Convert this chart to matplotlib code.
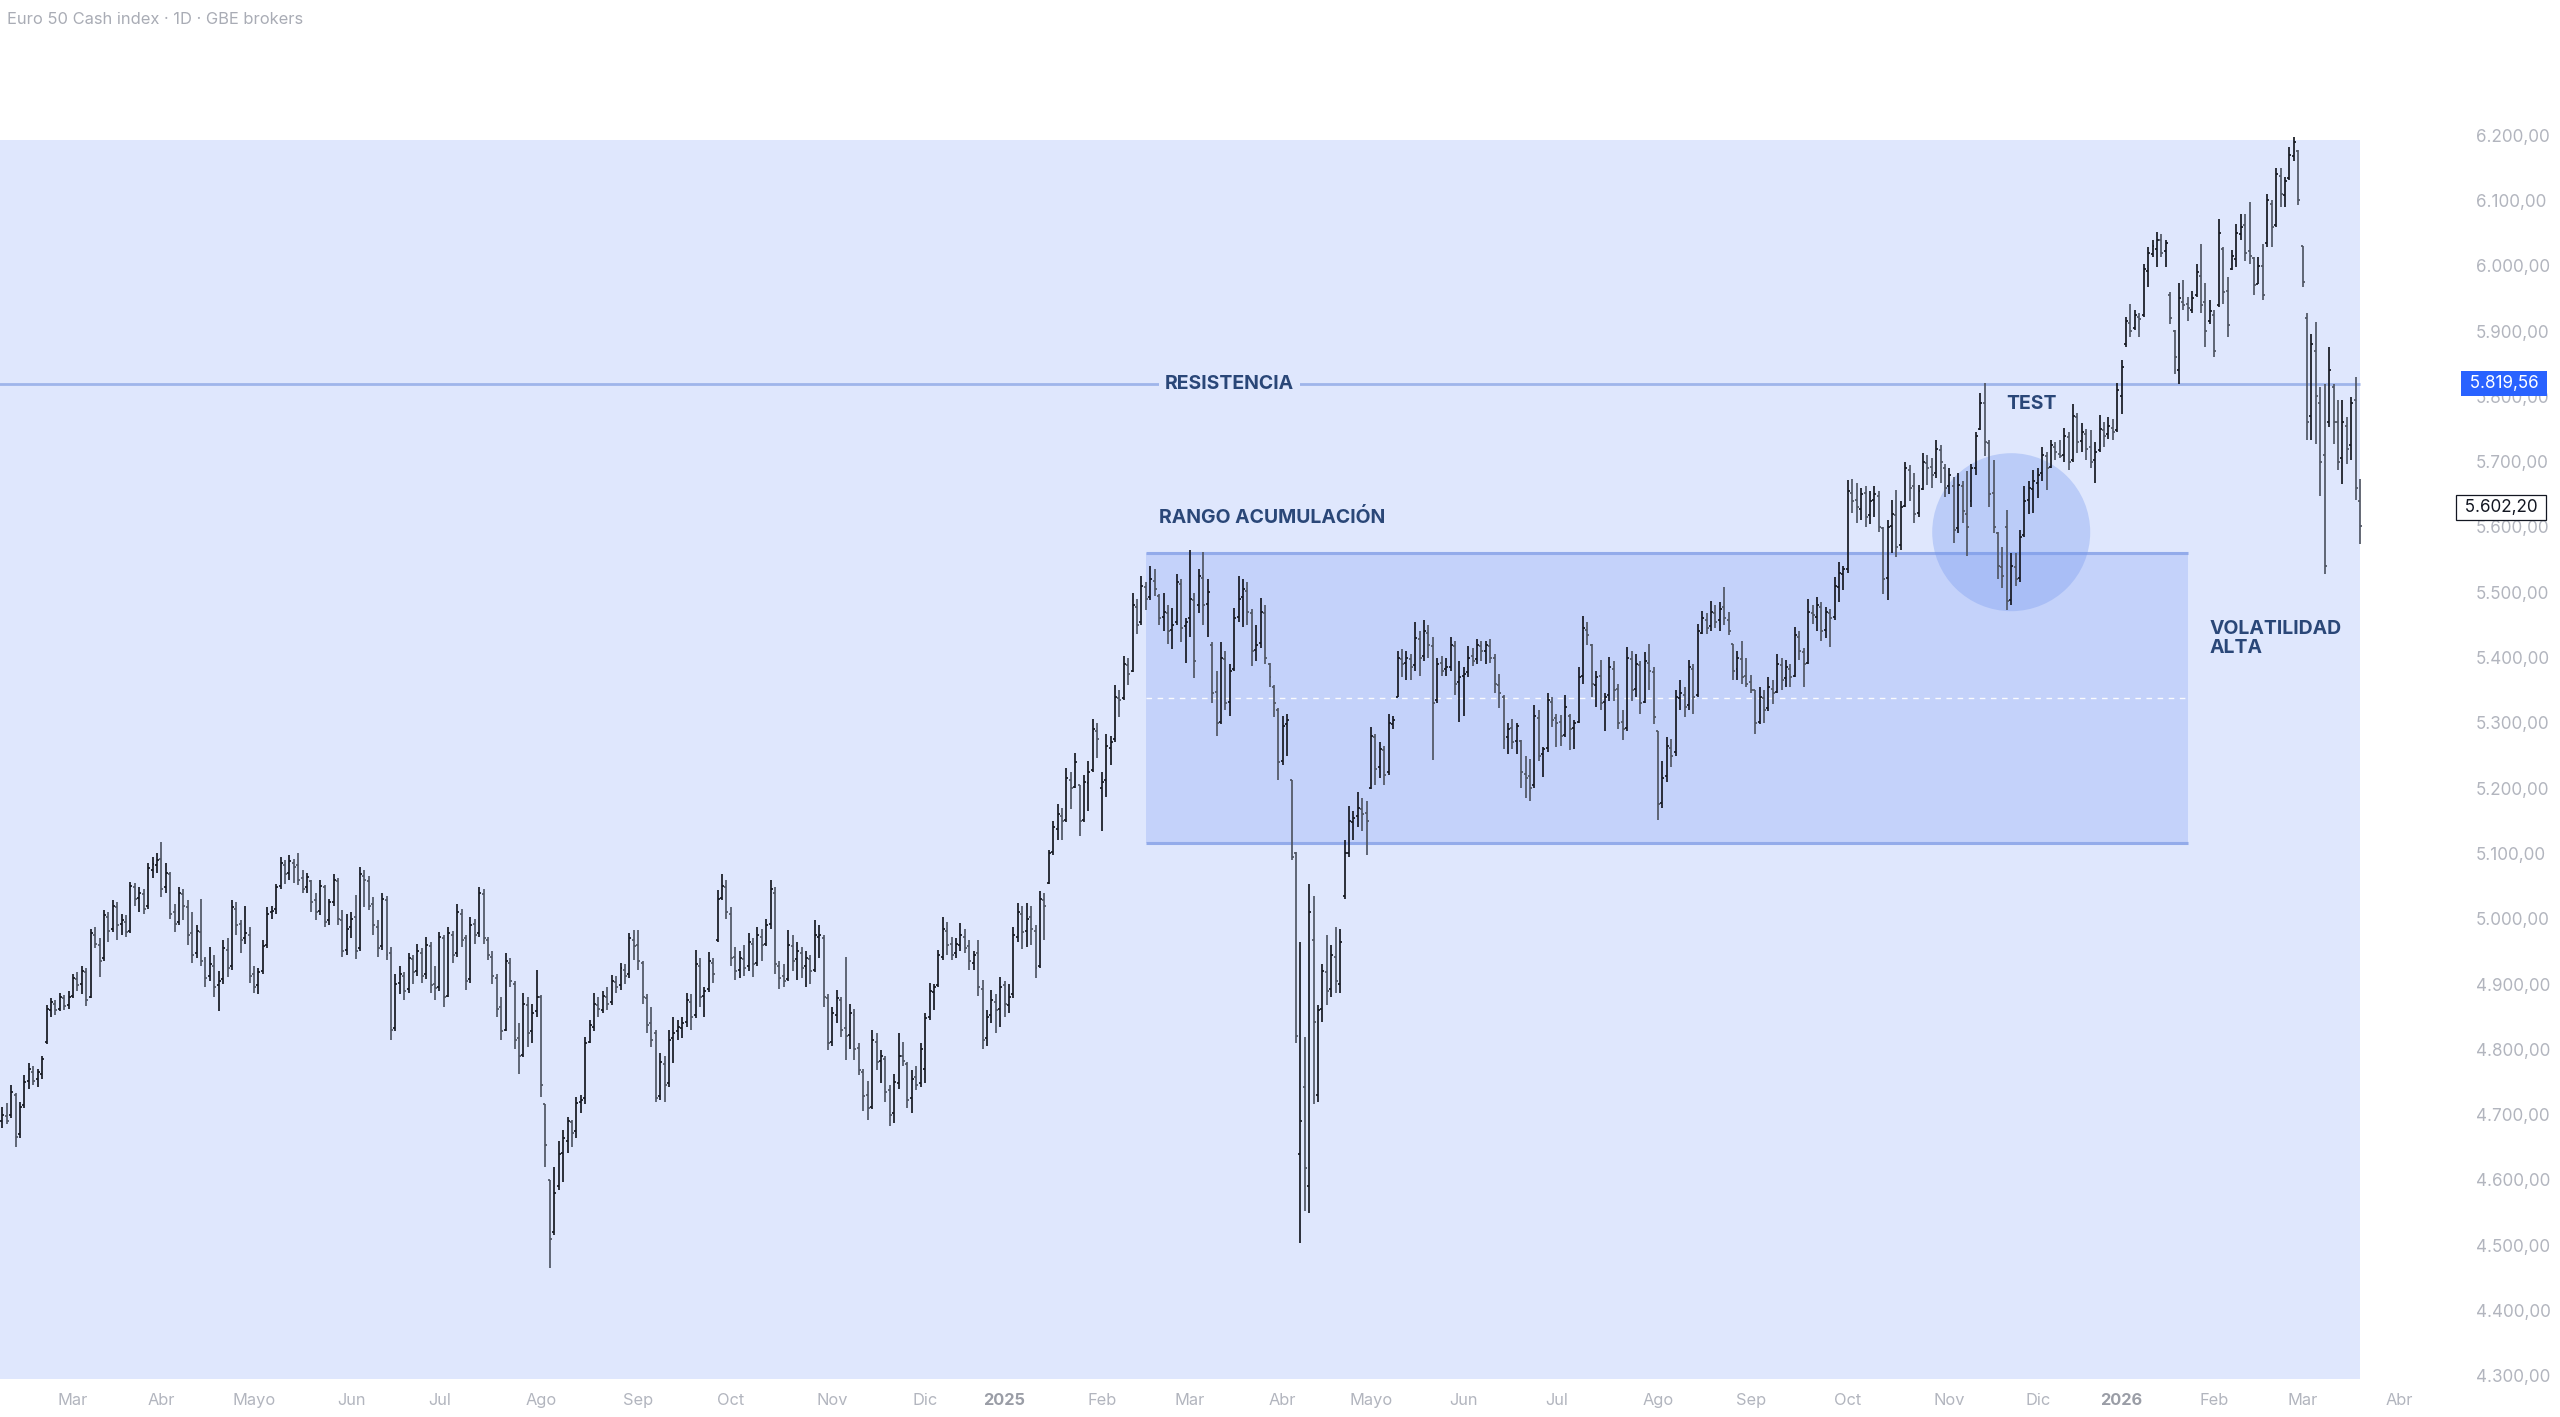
import numpy as np
import pandas as pd
import matplotlib
matplotlib.use("Agg")
from matplotlib import pyplot as plt
from matplotlib.patches import Rectangle, Ellipse

plt.rcParams['font.family'] = ['Inter', 'DejaVu Sans']

# ---------------------------------------------------------------- datos
first_day = "2024-02-08"
holidays = ["2024-03-29", "2024-04-01", "2024-05-01", "2024-12-24", "2024-12-25",
            "2024-12-26", "2024-12-31", "2025-01-01", "2025-04-18", "2025-04-21",
            "2025-05-01", "2025-12-24", "2025-12-25", "2025-12-26", "2025-12-31",
            "2026-01-01"]

opens = [
    4690, 4698, 4700, 4730, 4670, 4715, 4752, 4765, 4755, 4762, 4812, 4860, 4870, 4862, 4878, 4868,  # feb 24
    4882, 4908, 4900, 4918, 4880, 4975, 4960, 4940, 5003, 4985, 5018, 4992, 4995, 4982, 5048, 5032, 5038, 5020, 5075, 5082,  # mar
    5092, 5048, 5068, 5010, 4995, 5038, 5018, 4978, 4948, 4980, 4938, 4912, 4928, 4898, 4908, 4952, 4928, 5015, 4992, 4970, 4975,  # abr
    4915, 4898, 4920, 4960, 5010, 5015, 5050, 5082, 5070, 5085, 5082, 5062, 5048, 5058, 5028, 5012, 5048, 4998, 5025, 5058, 4998, 4952,  # may
    4988, 5002, 4955, 5065, 5058, 5022, 4988, 4958, 5028, 4948, 4832, 4902, 4912, 4892, 4938, 4920, 4948, 4915, 4958, 4900,  # jun
    4895, 4970, 4882, 4975, 4948, 5008, 4970, 4908, 4992, 4978, 5038, 4968, 4942, 4910, 4865, 4830, 4932, 4900, 4818, 4792, 4868, 4828, 4858,  # jul
    4880, 4717, 4600, 4520, 4590, 4642, 4660, 4688, 4675, 4720, 4725, 4812, 4835, 4868, 4860, 4880, 4872, 4903, 4898, 4922, 4915, 4968,  # ago
    4960, 4932, 4878, 4840, 4825, 4728, 4778, 4748, 4818, 4828, 4832, 4842, 4872, 4852, 4928, 4882, 4892, 4933, 4968, 5032, 5048,  # sep
    5008, 4942, 4922, 4938, 4928, 4962, 4932, 4972, 4962, 4992, 5040, 4928, 4912, 4908, 4958, 4938, 4948, 4928, 4938, 4922, 4972, 4970, 4878,  # oct
    4812, 4852, 4875, 4832, 4822, 4852, 4802, 4765, 4730, 4712, 4812, 4782, 4785, 4738, 4702, 4748, 4790, 4778, 4725, 4758, 4748,  # nov
    4770, 4850, 4888, 4898, 4942, 4982, 4962, 4948, 4960, 4972, 4958, 4932, 4948, 4892, 4818, 4852, 4872, 4862,  # dic
    4898, 4868, 4885, 4972, 5008, 4982, 5002, 4982, 4928, 5028, 5055, 5102, 5138, 5158, 5152, 5212, 5202, 5205, 5152, 5208, 5228, 5288,  # ene 25
    5200, 5212, 5262, 5275, 5338, 5338, 5388, 5380, 5478, 5455, 5508, 5492, 5518, 5495, 5462, 5468, 5442, 5455, 5512, 5448,  # feb
    5460, 5488, 5480, 5522, 5482, 5420, 5348, 5302, 5398, 5332, 5382, 5462, 5492, 5502, 5468, 5412, 5422, 5468, 5390, 5355, 5320,  # mar
    5242, 5298, 5213, 5100, 4640, 4742, 4590, 4968, 4730, 4862, 4918, 4892, 4942, 4900, 5035, 5100, 5148, 5158, 5168, 5162,  # abr
    5200, 5278, 5232, 5258, 5225, 5298, 5339, 5398, 5392, 5398, 5388, 5428, 5402, 5438, 5418, 5335, 5392, 5382, 5385, 5418, 5362,  # may
    5372, 5378, 5402, 5398, 5418, 5410, 5418, 5400, 5358, 5340, 5278, 5292, 5272, 5272, 5222, 5218, 5205, 5308, 5252, 5262, 5332,  # jun
    5308, 5302, 5282, 5310, 5292, 5302, 5372, 5442, 5420, 5358, 5372, 5332, 5342, 5382, 5352, 5302, 5292, 5398, 5352, 5388, 5332, 5392, 5378,  # jul
    5288, 5178, 5218, 5262, 5255, 5338, 5342, 5328, 5382, 5342, 5438, 5458, 5448, 5468, 5458, 5478, 5458, 5421, 5382, 5398, 5372,  # ago
    5362, 5350, 5302, 5338, 5322, 5352, 5348, 5388, 5368, 5382, 5372, 5432, 5408, 5392, 5468, 5462, 5478, 5442, 5468, 5462, 5508, 5528,  # sep
    5535, 5652, 5642, 5628, 5652, 5618, 5642, 5648, 5598, 5522, 5602, 5618, 5572, 5632, 5688, 5662, 5622, 5658, 5698, 5692, 5682, 5718, 5690,  # oct
    5662, 5662, 5598, 5662, 5620, 5640, 5690, 5750, 5790, 5728, 5652, 5590, 5538, 5600, 5488, 5538, 5522, 5588, 5642, 5658,  # nov
    5668, 5682, 5708, 5692, 5722, 5712, 5710, 5738, 5702, 5768, 5732, 5742, 5722, 5702, 5718, 5748, 5742, 5752, 5748,  # dic
    5800, 5880, 5912, 5905, 5922, 5925, 5992, 6018, 6025, 6040, 6022, 5955, 5900, 5840, 5945, 5942, 5932, 5955, 5985, 5945, 5915,  # ene 26
    5925, 5940, 6025, 5962, 5995, 6010, 6048, 6062, 6022, 6012, 5972, 6000, 6035, 6095, 6062, 6138, 6108, 6135, 6168, 6175,  # feb
    6030, 5920, 5770, 5870, 5790, 5710, 5760, 5815, 5760, 5705, 5755, 5725, 5795, 5640,  # mar
]
highs = [
    4712, 4718, 4745, 4733, 4720, 4760, 4779, 4775, 4770, 4790, 4868, 4878, 4876, 4886, 4884, 4890,
    4916, 4918, 4927, 4925, 4985, 4988, 4970, 5013, 5010, 5029, 5025, 5008, 5005, 5057, 5055, 5049, 5046, 5085, 5095, 5100,
    5118, 5085, 5072, 5023, 5049, 5045, 5029, 5010, 4990, 5031, 4942, 4957, 4945, 4920, 4967, 4970, 5029, 5025, 4998, 5020, 4988,
    4927, 4925, 4967, 5018, 5020, 5054, 5095, 5090, 5098, 5092, 5100, 5074, 5070, 5059, 5040, 5059, 5052, 5030, 5069, 5062, 5013, 5008,
    5010, 5036, 5080, 5074, 5065, 5034, 4998, 5039, 5035, 4957, 4916, 4927, 4918, 4947, 4945, 4962, 4955, 4972, 4965, 4927,
    4980, 4975, 4988, 4982, 5023, 5015, 4975, 5003, 5000, 5049, 5045, 4972, 4950, 4915, 4880, 4947, 4940, 4905, 4840, 4886, 4880, 4870, 4921,
    4883, 4717, 4600, 4620, 4660, 4676, 4697, 4692, 4727, 4730, 4819, 4845, 4886, 4880, 4890, 4895, 4914, 4912, 4932, 4930, 4978, 4983,
    4983, 4936, 4885, 4865, 4830, 4794, 4790, 4830, 4850, 4845, 4850, 4886, 4885, 4952, 4940, 4896, 4949, 4940, 5044, 5069, 5060,
    5018, 4957, 4950, 4960, 4978, 4970, 4988, 4985, 5000, 5060, 5048, 4935, 4930, 4983, 4975, 4965, 4957, 4950, 4945, 4998, 4990, 4975, 4885,
    4865, 4891, 4880, 4942, 4870, 4862, 4810, 4770, 4752, 4830, 4825, 4799, 4790, 4745, 4763, 4825, 4812, 4780, 4769, 4774, 4809,
    4855, 4901, 4900, 4952, 5003, 4995, 4972, 4970, 4993, 4985, 4967, 4950, 4967, 4906, 4860, 4891, 4885, 4911,
    4905, 4900, 4987, 5024, 5020, 5024, 5020, 4990, 5042, 5040, 5105, 5150, 5176, 5170, 5231, 5225, 5254, 5205, 5220, 5242, 5306, 5300,
    5224, 5283, 5280, 5358, 5350, 5402, 5400, 5499, 5490, 5525, 5515, 5540, 5535, 5498, 5499, 5480, 5476, 5528, 5520, 5461,
    5565, 5499, 5536, 5562, 5521, 5424, 5380, 5424, 5410, 5390, 5476, 5525, 5520, 5515, 5475, 5450, 5491, 5480, 5391, 5358, 5322,
    5310, 5313, 5213, 5102, 4964, 4819, 5053, 5035, 4868, 4931, 4975, 4960, 4987, 4985, 5120, 5172, 5165, 5194, 5185, 5180,
    5294, 5283, 5270, 5265, 5313, 5310, 5410, 5413, 5410, 5405, 5454, 5440, 5458, 5450, 5432, 5400, 5402, 5400, 5432, 5425, 5395,
    5385, 5417, 5415, 5428, 5426, 5425, 5428, 5405, 5375, 5342, 5300, 5306, 5300, 5273, 5250, 5245, 5327, 5320, 5263, 5345, 5340,
    5314, 5312, 5342, 5314, 5305, 5385, 5464, 5455, 5421, 5380, 5396, 5345, 5401, 5395, 5360, 5320, 5416, 5410, 5406, 5395, 5408, 5421, 5385,
    5288, 5242, 5278, 5275, 5350, 5365, 5355, 5396, 5390, 5452, 5472, 5468, 5487, 5480, 5485, 5508, 5470, 5421, 5410, 5426, 5400,
    5373, 5350, 5355, 5350, 5370, 5365, 5406, 5400, 5396, 5390, 5447, 5440, 5415, 5490, 5480, 5493, 5485, 5477, 5475, 5523, 5546, 5540,
    5672, 5674, 5667, 5660, 5662, 5655, 5662, 5655, 5600, 5611, 5641, 5657, 5640, 5700, 5695, 5682, 5665, 5713, 5710, 5705, 5733, 5725, 5697,
    5690, 5677, 5682, 5670, 5685, 5697, 5746, 5805, 5820, 5733, 5703, 5592, 5570, 5626, 5560, 5560, 5595, 5662, 5670, 5687,
    5690, 5723, 5715, 5733, 5730, 5733, 5751, 5745, 5789, 5775, 5759, 5750, 5748, 5730, 5771, 5760, 5769, 5765, 5820,
    5856, 5922, 5942, 5932, 5927, 6003, 6029, 6039, 6052, 6049, 6039, 5960, 5901, 5973, 5978, 5952, 5962, 6003, 6034, 5973, 5947,
    5932, 6072, 6029, 5983, 6024, 6064, 6080, 6080, 6098, 6013, 6013, 6034, 6110, 6100, 6149, 6149, 6136, 6182, 6197, 6177,
    6031, 5927, 5896, 5914, 5814, 5819, 5876, 5819, 5794, 5794, 5768, 5799, 5830, 5674,
]
lows = [
    4680, 4685, 4695, 4651, 4665, 4710, 4740, 4745, 4742, 4755, 4808, 4850, 4852, 4858, 4860, 4862,
    4878, 4890, 4885, 4866, 4878, 4955, 4911, 4935, 4965, 4980, 4968, 4975, 4972, 4978, 5020, 5010, 5008, 5015, 5062, 5070,
    5034, 5040, 5000, 4980, 4990, 4998, 4960, 4932, 4940, 4927, 4896, 4905, 4880, 4858, 4900, 4911, 4922, 4975, 4947, 4962, 4901,
    4886, 4885, 4915, 4955, 5000, 5008, 5045, 5054, 5060, 5055, 5052, 5039, 5040, 5010, 4998, 5005, 4988, 4990, 5020, 4990, 4942, 4945,
    4970, 4939, 4950, 5018, 5013, 4975, 4942, 4952, 4937, 4814, 4828, 4885, 4875, 4886, 4900, 4912, 4901, 4908, 4886, 4875,
    4890, 4865, 4880, 4932, 4942, 4957, 4891, 4902, 4962, 4972, 4962, 4937, 4900, 4850, 4814, 4828, 4896, 4800, 4763, 4788, 4804, 4810, 4850,
    4727, 4620, 4465, 4515, 4585, 4597, 4641, 4651, 4665, 4702, 4717, 4809, 4828, 4850, 4855, 4860, 4868, 4886, 4891, 4900, 4910, 4937,
    4921, 4870, 4825, 4804, 4720, 4722, 4720, 4742, 4779, 4814, 4818, 4835, 4830, 4848, 4865, 4850, 4888, 4901, 4965, 5028, 5000,
    4927, 4906, 4910, 4912, 4920, 4911, 4927, 4935, 4958, 4985, 4916, 4893, 4895, 4904, 4920, 4906, 4910, 4896, 4900, 4918, 4940, 4865, 4799,
    4805, 4840, 4819, 4784, 4800, 4784, 4760, 4705, 4692, 4708, 4769, 4748, 4720, 4682, 4687, 4740, 4774, 4710, 4702, 4738, 4743,
    4748, 4845, 4860, 4895, 4937, 4945, 4937, 4940, 4950, 4947, 4921, 4921, 4881, 4800, 4805, 4840, 4825, 4835,
    4849, 4855, 4879, 4965, 4953, 4957, 4960, 4909, 4925, 4968, 5053, 5098, 5120, 5120, 5148, 5168, 5200, 5127, 5148, 5165, 5224, 5246,
    5135, 5187, 5235, 5270, 5309, 5335, 5358, 5378, 5436, 5450, 5473, 5488, 5495, 5450, 5440, 5421, 5413, 5450, 5424, 5391,
    5432, 5369, 5469, 5450, 5432, 5330, 5280, 5298, 5320, 5310, 5380, 5455, 5447, 5450, 5387, 5395, 5415, 5390, 5355, 5309, 5213,
    5235, 5250, 5090, 4810, 4504, 4552, 4549, 4716, 4719, 4842, 4868, 4880, 4886, 4886, 5031, 5095, 5120, 5140, 5135, 5098,
    5198, 5205, 5215, 5205, 5220, 5291, 5339, 5370, 5365, 5365, 5380, 5372, 5395, 5400, 5243, 5330, 5372, 5372, 5380, 5343, 5302,
    5310, 5370, 5387, 5390, 5395, 5390, 5392, 5345, 5322, 5260, 5253, 5260, 5253, 5200, 5185, 5181, 5200, 5242, 5217, 5255, 5294,
    5263, 5265, 5278, 5258, 5260, 5300, 5360, 5420, 5340, 5324, 5320, 5288, 5334, 5334, 5290, 5273, 5288, 5334, 5340, 5314, 5330, 5350, 5299,
    5151, 5170, 5210, 5232, 5250, 5320, 5309, 5320, 5314, 5340, 5436, 5436, 5441, 5445, 5441, 5450, 5434, 5365, 5365, 5360, 5355,
    5345, 5283, 5299, 5300, 5318, 5329, 5345, 5350, 5355, 5355, 5370, 5396, 5355, 5390, 5452, 5440, 5426, 5430, 5416, 5457, 5485, 5503,
    5530, 5621, 5606, 5610, 5600, 5605, 5616, 5593, 5498, 5488, 5560, 5554, 5565, 5631, 5640, 5606, 5615, 5657, 5665, 5660, 5675, 5667, 5646,
    5650, 5575, 5590, 5606, 5555, 5631, 5680, 5748, 5708, 5631, 5590, 5520, 5506, 5473, 5480, 5509, 5515, 5585, 5620, 5621,
    5645, 5670, 5657, 5690, 5702, 5705, 5700, 5687, 5700, 5713, 5715, 5702, 5690, 5667, 5715, 5723, 5735, 5733, 5745,
    5773, 5876, 5891, 5901, 5891, 5922, 5967, 6013, 5998, 6013, 5998, 5911, 5835, 5819, 5932, 5916, 5927, 5952, 5927, 5876, 5911,
    5860, 5937, 5942, 5891, 5993, 5998, 6039, 6008, 6003, 5955, 5972, 5947, 6029, 6029, 6059, 6090, 6090, 6131, 6161, 6093,
    5967, 5733, 5733, 5727, 5648, 5528, 5753, 5727, 5687, 5666, 5697, 5702, 5641, 5574,
]
closes = [
    4700, 4690, 4735, 4666, 4712, 4750, 4770, 4752, 4765, 4785, 4862, 4872, 4860, 4880, 4866, 4880,
    4910, 4898, 4920, 4875, 4978, 4962, 4935, 5005, 4982, 5020, 4990, 4998, 4980, 5050, 5030, 5040, 5015, 5078, 5084, 5090,
    5045, 5070, 5008, 4992, 5040, 5020, 4975, 4945, 4982, 4935, 4910, 4930, 4895, 4905, 4955, 4925, 5018, 4990, 4968, 4978, 4912,
    4895, 4918, 4958, 5008, 5012, 5048, 5085, 5068, 5088, 5080, 5060, 5045, 5064, 5025, 5010, 5050, 4995, 5025, 5060, 5000, 4950, 4985,
    5000, 4950, 5068, 5060, 5020, 4990, 4955, 5030, 4945, 4830, 4900, 4915, 4890, 4940, 4918, 4950, 4912, 4960, 4898, 4894,
    4972, 4880, 4978, 4945, 5010, 4968, 4905, 4990, 4975, 5040, 4970, 4945, 4912, 4862, 4828, 4935, 4905, 4815, 4790, 4870, 4825, 4855, 4880,
    4746, 4653, 4509, 4580, 4640, 4665, 4690, 4672, 4718, 4722, 4810, 4838, 4870, 4862, 4882, 4870, 4905, 4895, 4925, 4912, 4970, 4958,
    4935, 4880, 4838, 4815, 4725, 4780, 4745, 4815, 4825, 4835, 4840, 4875, 4850, 4930, 4880, 4890, 4935, 4915, 5030, 5050, 5010,
    4940, 4920, 4940, 4925, 4965, 4930, 4975, 4960, 4990, 5045, 4930, 4910, 4905, 4960, 4935, 4950, 4925, 4940, 4920, 4975, 4975, 4880, 4810,
    4855, 4878, 4830, 4820, 4855, 4800, 4768, 4728, 4710, 4815, 4780, 4790, 4735, 4700, 4750, 4790, 4782, 4722, 4755, 4745, 4800,
    4848, 4890, 4895, 4945, 4985, 4960, 4945, 4962, 4975, 4955, 4935, 4945, 4895, 4815, 4850, 4875, 4860, 4895,
    4870, 4880, 4975, 5010, 4980, 5000, 4985, 4925, 5030, 5020, 5100, 5140, 5160, 5150, 5215, 5200, 5240, 5150, 5210, 5225, 5290, 5275,
    5210, 5265, 5270, 5340, 5335, 5390, 5375, 5480, 5450, 5510, 5490, 5520, 5505, 5460, 5470, 5440, 5450, 5515, 5445, 5455,
    5490, 5395, 5525, 5480, 5500, 5345, 5300, 5400, 5330, 5380, 5460, 5490, 5505, 5470, 5410, 5420, 5470, 5400, 5370, 5330, 5240,
    5295, 5305, 5095, 4820, 4690, 4619, 5010, 4842, 4860, 4920, 4890, 4945, 4905, 4965, 5100, 5150, 5155, 5170, 5160, 5150,
    5280, 5230, 5260, 5220, 5300, 5305, 5400, 5390, 5400, 5385, 5430, 5400, 5440, 5420, 5330, 5390, 5380, 5385, 5420, 5360, 5370,
    5375, 5400, 5395, 5420, 5410, 5420, 5400, 5360, 5345, 5275, 5290, 5270, 5295, 5225, 5215, 5200, 5310, 5250, 5260, 5335, 5305,
    5300, 5280, 5325, 5290, 5300, 5370, 5445, 5435, 5360, 5370, 5330, 5340, 5385, 5350, 5300, 5290, 5400, 5350, 5390, 5330, 5395, 5380, 5309,
    5175, 5215, 5265, 5250, 5340, 5345, 5325, 5385, 5340, 5440, 5460, 5445, 5470, 5455, 5475, 5460, 5440, 5380, 5400, 5370, 5360,
    5350, 5300, 5340, 5320, 5355, 5345, 5390, 5365, 5385, 5370, 5435, 5410, 5390, 5470, 5465, 5480, 5440, 5470, 5460, 5510, 5530, 5535,
    5655, 5640, 5630, 5650, 5615, 5640, 5650, 5600, 5520, 5600, 5620, 5570, 5630, 5690, 5660, 5620, 5655, 5700, 5690, 5680, 5720, 5700, 5660,
    5680, 5595, 5665, 5625, 5600, 5690, 5740, 5790, 5730, 5650, 5600, 5540, 5525, 5486, 5540, 5520, 5585, 5640, 5660, 5670,
    5680, 5710, 5690, 5725, 5715, 5708, 5740, 5700, 5770, 5730, 5745, 5720, 5700, 5715, 5750, 5740, 5755, 5745, 5810,
    5845, 5915, 5900, 5925, 5918, 5995, 6020, 6030, 6040, 6020, 6035, 5920, 5860, 5950, 5940, 5935, 5950, 5990, 5940, 5900, 5930,
    5870, 6050, 5960, 5910, 6015, 6050, 6060, 6020, 6015, 5970, 6000, 5955, 6100, 6060, 6140, 6110, 6130, 6170, 6190, 6100,
    5975, 5760, 5880, 5800, 5700, 5540, 5840, 5760, 5700, 5760, 5720, 5790, 5660, 5602,
]

month_names = {2: "Feb", 3: "Mar", 4: "Abr", 5: "Mayo", 6: "Jun", 7: "Jul", 8: "Ago",
               9: "Sep", 10: "Oct", 11: "Nov", 12: "Dic"}
price_ticks = np.arange(4300, 6201, 100)

resistance = 5819.56
last_price = 5602.20
range_top, range_bottom = 5560, 5116
range_from, range_to = "2025-02-17", "2026-01-23"
test_day = "2025-11-21"
bg_top, bg_bottom = 6192, 4295

# ---------------------------------------------------------------- colores
BG = "#dfe7fd"
BOX = "#c4d2fa"
BOX_EDGE = "#93abea"
LINE = "#9fb5ea"
NAVY = "#2a4778"
GREY = "#b2b5be"

# ---------------------------------------------------------------- ejes
W, H, DPI = 2560, 1417, 100
AX_W, AX_H = 2465, 1385
BAR_PX, X0_PX = 4.415, 2.4

fig = plt.figure(figsize=(W / DPI, H / DPI), dpi=DPI, facecolor="white")
ax = fig.add_axes([0, 1 - AX_H / H, AX_W / W, AX_H / H])
ax.set_facecolor("white")
for s in ax.spines.values():
    s.set_visible(False)

dates = pd.bdate_range(first_day, "2026-04-30", freq="C", holidays=holidays)
n = len(closes)
x = np.arange(n)
o, h, l, c = (np.array(v, dtype=float) for v in (opens, highs, lows, closes))

ax.set_xlim(-X0_PX / BAR_PX, (AX_W - X0_PX) / BAR_PX)
ax.set_ylim(4286, 6407)


def idx(day):
    return dates.get_loc(pd.Timestamp(day))


# fondo general y rango
ax.add_patch(Rectangle((-1, bg_bottom), n, bg_top - bg_bottom, fc=BG, ec="none", zorder=0))
r0, r1 = idx(range_from), idx(range_to)
ax.add_patch(Rectangle((r0, range_bottom), r1 - r0, range_top - range_bottom,
                       fc=BOX, ec="none", zorder=1))
ax.hlines([range_top, range_bottom], r0, r1, colors=BOX_EDGE, lw=2.2, zorder=1.2)
ax.hlines((range_top + range_bottom) / 2, r0, r1, colors="white", lw=1.0,
          linestyles=(0, (4, 4)), alpha=0.9, zorder=1.2)

# circulo "test"
r_px = 79
ax.add_patch(Ellipse((idx(test_day), 5592), 2 * r_px / BAR_PX,
                     2 * r_px * (6407 - 4286) / AX_H,
                     fc="#7296ef", ec="none", alpha=0.33, zorder=1.4))

# resistencia
ax.hlines(resistance, -1, n - 1, colors=LINE, lw=2.0, zorder=1.5)

# barras OHLC
up = c >= o
cols = np.where(up, "#161922", "#505664")
ax.vlines(x, l, h, colors=cols, lw=1.25, zorder=3)
ax.hlines(o, x - 0.45, x, colors=cols, lw=1.25, zorder=3)
ax.hlines(c, x, x + 0.45, colors=cols, lw=1.25, zorder=3)

# textos
txt = dict(color=NAVY, fontsize=14, fontweight="bold", zorder=5)
ax.text(idx("2025-03-14"), resistance, "RESISTENCIA", ha="center", va="center",
        bbox=dict(boxstyle="square,pad=0.3", fc=BG, ec="none"), **txt)
ax.text(idx("2025-02-20"), 5615, "RANGO ACUMULACIÓN", ha="left", va="center", **txt)
ax.text(idx("2025-11-27") + 0.5, 5788, "TEST", ha="center", va="center", **txt)
ax.text(idx("2026-01-30"), 5457, "VOLATILIDAD\nALTA", ha="left", va="top",
        linespacing=1.02, **txt)

fig.text(7 / W, 1 - 20 / H, "Euro 50 Cash index · 1D · GBE brokers", color="#a9acb5",
         fontsize=11.9, ha="left", va="center")

# eje X: primer dia de cada mes
ds = pd.Series(np.arange(len(dates)), index=dates)
firsts = ds.groupby(dates.to_period("M")).first()
firsts = firsts[firsts.index >= pd.Period("2024-03", "M")]
xt, xl = [], []
for per, pos in firsts.items():
    if pos > ax.get_xlim()[1]:
        continue
    xt.append(pos)
    xl.append(str(per.year) if per.month == 1 else month_names[per.month])
ax.set_xticks(xt)
ax.set_xticklabels(xl)
ax.tick_params(axis="x", length=0, pad=6, labelsize=11.8, labelcolor=GREY)
for lbl in ax.get_xticklabels():
    if lbl.get_text().isdigit():
        lbl.set_fontweight("bold")
        lbl.set_color("#9a9da6")

# eje Y a la derecha
def fmt(v):
    return f"{v:,.2f}".replace(",", "X").replace(".", ",").replace("X", ".")


ax.yaxis.tick_right()
ax.set_yticks(price_ticks)
ax.set_yticklabels([fmt(v) for v in price_ticks])
ax.tick_params(axis="y", length=0, pad=8, labelsize=12.3, labelcolor=GREY)

ax.text(1.0, resistance, " " + fmt(resistance) + " ", transform=ax.get_yaxis_transform(),
        ha="left", va="center", fontsize=12.3, color="white", clip_on=False, zorder=6,
        bbox=dict(boxstyle="square,pad=0.22", fc="#2962ff", ec="none"))
ax.annotate(" " + fmt(last_price) + " ", xy=(1.0, last_price), xycoords=ax.get_yaxis_transform(),
            xytext=(-5, 18), textcoords="offset pixels", ha="left", va="center",
            fontsize=12.3, color="#131722", annotation_clip=False, zorder=6,
            bbox=dict(boxstyle="square,pad=0.22", fc="white", ec="#131722", lw=0.9))

fig.savefig("out.png", dpi=DPI, facecolor="white")
